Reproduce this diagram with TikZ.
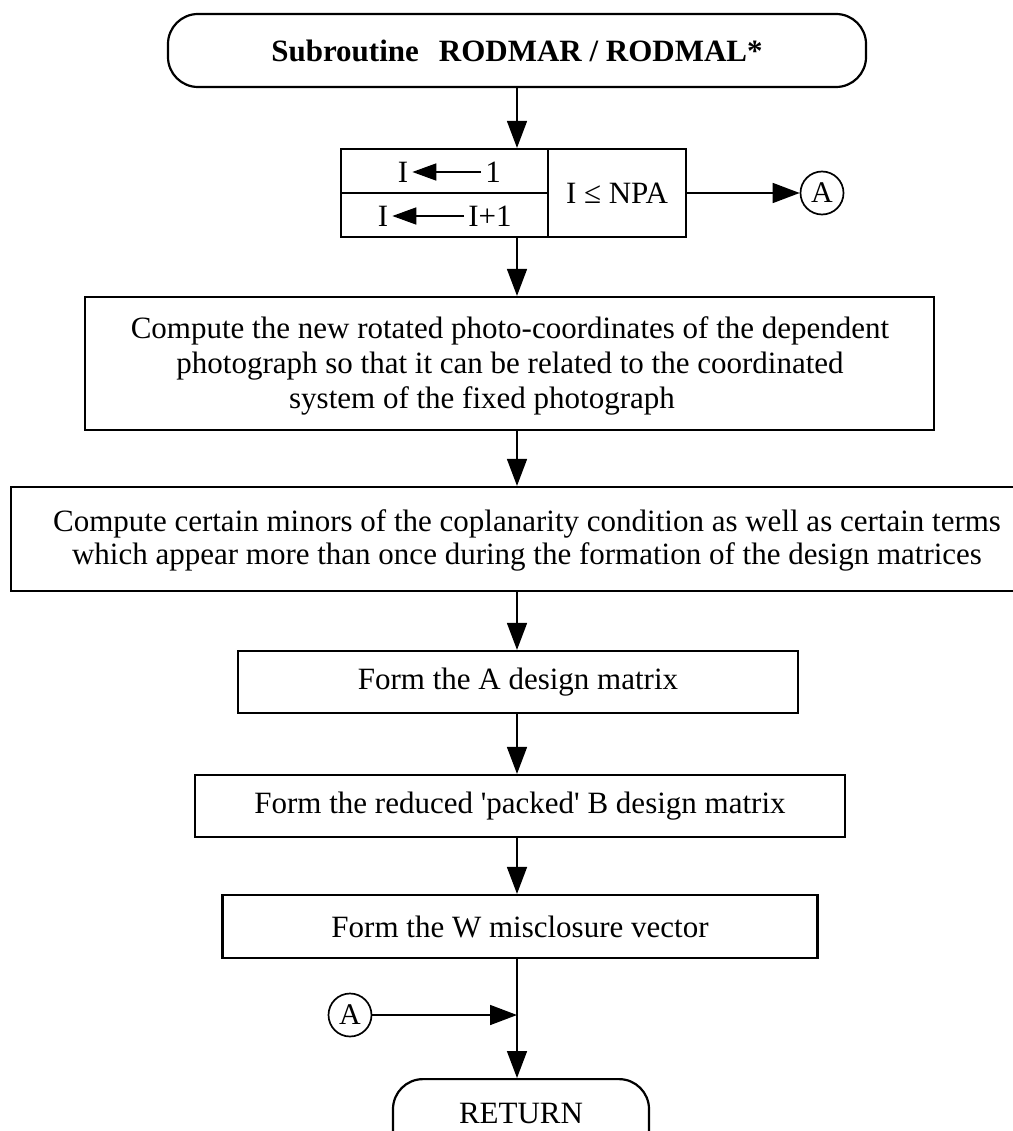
\documentclass[tikz,border=0pt]{standalone}
\usepackage{fontspec}
\setmainfont{Liberation Serif}
\usetikzlibrary{arrows.meta}
\begin{document}
\begin{tikzpicture}[x=1pt,y=-1pt,
  box/.style={draw, line width=2.2pt, inner sep=0pt},
  flow/.style={line width=1.6pt, -{Triangle[length=27pt,width=20pt]}},
  assign/.style={line width=1.8pt, -{Triangle[length=24pt,width=17pt]}, shorten >=3pt, shorten <=3pt},
  conn/.style={draw, circle, line width=1.7pt, minimum size=43pt, inner sep=0pt,
    font=\fontsize{30}{30}\selectfont},
  body/.style={font=\fontsize{31}{33}\selectfont, inner sep=1pt}
]
\useasboundingbox (0,0) rectangle (1012,1131);

% entry terminal
\node[box, rounded corners=30pt, minimum width=698pt, minimum height=73pt,
  font=\bfseries\fontsize{31}{31}\selectfont] (title) at (517,50.5)
  {Subroutine\hspace{20pt}RODMAR / RODMAL*};

% loop control box: initialise / increment cells and the test cell
\node[box, minimum width=207pt, minimum height=44pt] (init) at (444.5,171) {};
\node[box, minimum width=207pt, minimum height=44pt] (incr) at (444.5,215) {};
\node[box, minimum width=138pt, minimum height=88pt, body] (cond) at (617,193) {I ≤ NPA};
\node[body] (iA) at (403,172) {I};
\node[body] (vA) at (493,172) {1};
\draw[assign] (vA) -- (iA);
\node[body] (iB) at (383,216) {I};
\node[body] (vB) at (490,216) {I+1};
\draw[assign] (vB) -- (iB);
\node[conn] (aout) at (822,193) {A};

% process boxes
\node[box, minimum width=849pt, minimum height=133pt] (rot) at (509.5,363.5) {};
\node[body, font=\fontsize{31}{35}\selectfont, align=center] (rott) at (510,366)
  {Compute the new rotated photo-coordinates of the dependent\\
   photograph so that it can be related to the coordinated\\
   system of the fixed photograph\hspace*{56pt}};
\node[box, minimum width=1020pt, minimum height=104pt] (minors) at (521,539) {};
\node[body, align=center] (minorst) at (527,540)
  {Compute certain minors of the coplanarity condition as well as certain terms\\
   which appear more than once during the formation of the design matrices};
\node[box, minimum width=560pt, minimum height=62pt, body] (amat) at (518,682) {Form the A design matrix};
\node[box, minimum width=650pt, minimum height=62pt, body] (bmat) at (520,806)
  {Form the reduced \textquotesingle packed\textquotesingle\ B design matrix};
\node[box, minimum width=595pt, minimum height=63pt, body] (wvec) at (520,926.5) {Form the W misclosure vector};

% exit terminal
\node[box, rounded corners=30pt, minimum width=256pt, minimum height=80pt, body,
  anchor=north] (ret) at (521,1078) {\raisebox{12pt}{RETURN}};

% return connector
\node[conn] (ain) at (350,1015) {A};
\coordinate (join) at (517,1015);

% connectors along the main axis
\draw[flow] (title.south -| 517,0) -- (init.north -| 517,0);
\draw[flow] (incr.south -| 517,0) -- (rot.north -| 517,0);
\draw[flow] (rot.south -| 517,0) -- (minors.north -| 517,0);
\draw[flow] (minors.south -| 517,0) -- (amat.north -| 517,0);
\draw[flow] (amat.south -| 517,0) -- (bmat.north -| 517,0);
\draw[flow] (bmat.south -| 517,0) -- (wvec.north -| 517,0);
\draw[flow] (wvec.south -| 517,0) -- (ret.north -| 517,0);
\draw[flow] (cond.east) -- (aout.west);
\draw[flow] (ain.east) -- (join);
\end{tikzpicture}
\end{document}
